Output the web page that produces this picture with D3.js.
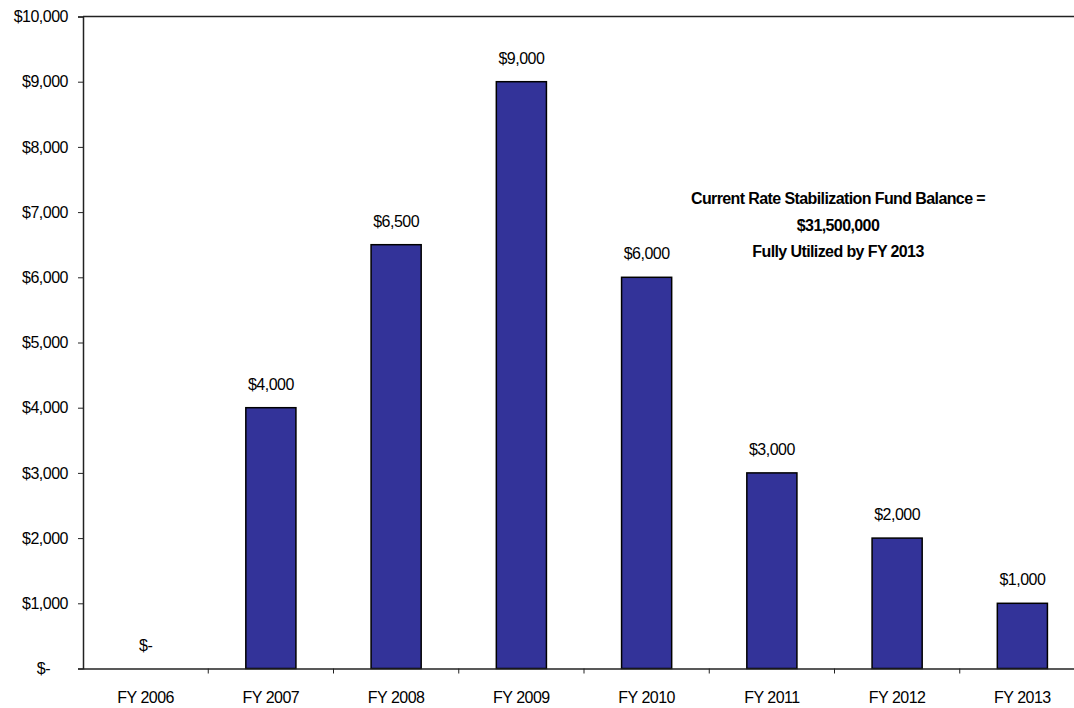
<!DOCTYPE html>
<html>
<head>
<meta charset="utf-8">
<script src="https://cdn.jsdelivr.net/npm/d3@7"></script>
<style>
  html, body { margin: 0; padding: 0; background: #fff; }
  svg { display: block; }
  text { font-family: Arial, "Liberation Sans", sans-serif; fill: #000; }
</style>
</head>
<body>
<svg id="chart" width="1074" height="708"></svg>
<script>
// Rate stabilization fund draw per fiscal year (thousands of dollars)
const years = ["FY 2006", "FY 2007", "FY 2008", "FY 2009", "FY 2010", "FY 2011", "FY 2012", "FY 2013"];
const amounts = [0, 4000, 6500, 9000, 6000, 3000, 2000, 1000];
const yTicks = [0, 1000, 2000, 3000, 4000, 5000, 6000, 7000, 8000, 9000, 10000];
const noteLines = ["Current Rate Stabilization Fund Balance =", "$31,500,000", "Fully Utilized by FY 2013"];

const svg = d3.select("#chart");
const plotLeft = 83, plotRight = 1085, plotTop = 16.5, plotBottom = 668.5;

const x = d3.scaleBand().domain(years).range([plotLeft, plotRight]).paddingInner(0.6).paddingOuter(0.3);
const xCat = d3.scaleBand().domain(years).range([plotLeft, plotRight]);
const y = d3.scaleLinear().domain([0, 10000]).range([plotBottom, plotTop]);

const money = v => v === 0 ? "$-" : "$" + d3.format(",")(v);
const textSize = "16px", textSpacing = "-0.5px";

// top frame line
svg.append("line")
  .attr("x1", plotLeft).attr("x2", 1074)
  .attr("y1", plotTop).attr("y2", plotTop)
  .attr("stroke", "#222").attr("stroke-width", 1.5);

// y axis
const yAxis = svg.append("g")
  .attr("transform", `translate(${plotLeft},0)`)
  .call(d3.axisLeft(y).tickValues(yTicks).tickSize(5).tickPadding(10).tickFormat(money));
yAxis.select(".domain").attr("stroke", "#222").attr("stroke-width", 1.5);
yAxis.selectAll(".tick line").attr("stroke", "#222");
yAxis.selectAll(".tick text")
  .style("font-size", textSize).style("letter-spacing", textSpacing)
  .attr("font-family", null)
  .attr("dx", d => d === 0 ? -18 : 0);

// bars
svg.append("g").selectAll("rect")
  .data(amounts)
  .join("rect")
  .attr("x", (d, i) => x(years[i]))
  .attr("width", x.bandwidth())
  .attr("y", d => y(d))
  .attr("height", d => plotBottom - y(d))
  .attr("fill", "#333399")
  .attr("stroke", "#000")
  .attr("stroke-width", d => d === 0 ? 0 : 1.5);

// x axis
const xAxis = svg.append("g")
  .attr("transform", `translate(0,${plotBottom})`)
  .call(d3.axisBottom(xCat).tickSize(0).tickPadding(23));
xAxis.select(".domain").attr("stroke", "#222").attr("stroke-width", 1.5);
xAxis.selectAll(".tick text")
  .style("font-size", textSize).style("letter-spacing", textSpacing)
  .attr("font-family", null);

// category boundary tick marks
svg.append("g").selectAll("line")
  .data(years.slice(1))
  .join("line")
  .attr("x1", d => xCat(d)).attr("x2", d => xCat(d))
  .attr("y1", plotBottom).attr("y2", plotBottom + 5)
  .attr("stroke", "#222");

// value labels
svg.append("g").selectAll("text")
  .data(amounts)
  .join("text")
  .attr("x", (d, i) => x(years[i]) + x.bandwidth() / 2)
  .attr("y", d => y(d) - 18)
  .attr("text-anchor", "middle")
  .style("font-size", textSize).style("letter-spacing", textSpacing)
  .text(money);

// fund balance note
svg.append("g").selectAll("text")
  .data(noteLines)
  .join("text")
  .attr("x", 838)
  .attr("y", (d, i) => 204 + i * 26.5)
  .attr("text-anchor", "middle")
  .style("font-size", "16px").style("font-weight", "bold").style("letter-spacing", "-0.6px")
  .text(d => d);
</script>
</body>
</html>
